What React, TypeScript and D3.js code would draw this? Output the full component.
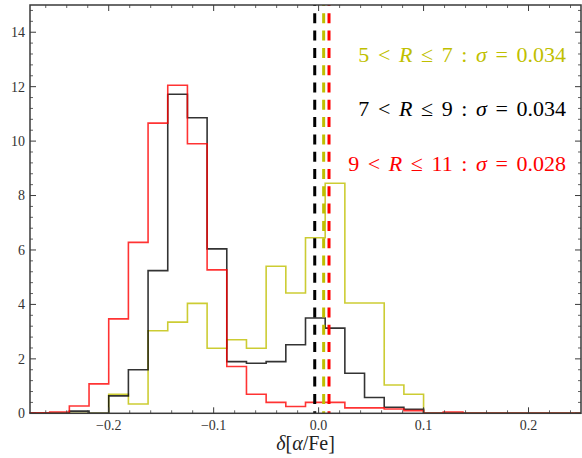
import React from "react";
import * as d3 from "d3";

// ---- data ----
const binStart = -0.275;
const binWidth = 0.01875;
const yellowCounts = [0, 0, 0, 0, 0.7, 0.34, 3.03, 3.35, 4.04, 2.39, 2.7, 2.39, 5.4, 4.42, 6.45, 8.45, 4.05, 4.05, 1.04, 0.7, 0, 0, 0, 0, 0, 0, 0, 0];
const blackCounts = [0, 0, 0.08, 0, 0.64, 1.6, 5.24, 11.72, 10.86, 6.04, 1.9, 1.84, 1.9, 2.52, 3.5, 3.13, 1.47, 0.58, 0.22, 0.15, 0, 0, 0, 0, 0, 0, 0, 0];
const redCounts = [0.02, 0.05, 0.27, 1.08, 3.47, 6.28, 10.66, 12.05, 9.9, 5.27, 1.72, 0.7, 0.4, 0.25, 0.4, 0.4, 0.2, 0.2, 0.16, 0.1, 0, 0.05, 0, 0, 0, 0, 0, 0];
const medians = [0.0048, -0.0037, 0.0099]; // yellow, black, red
const seriesColors = ["#bfbf00", "#000000", "#ff0000"];
const labelLow = ["5", "7", "9"];
const labelHigh = ["7", "9", "11"];
const labelSigma = ["0.034", "0.034", "0.028"];
const xTicks = [-0.2, -0.1, 0, 0.1, 0.2];
const xTickLabels = ["\u22120.2", "\u22120.1", "0.0", "0.1", "0.2"];
const yTicks = [0, 2, 4, 6, 8, 10, 12, 14];
const yTickLabels = ["0", "2", "4", "6", "8", "10", "12", "14"];

const W = 582;
const H = 458;
const L = 30, R = 581, T = 5, B = 413.3;

export default function App() {
  const x = d3.scaleLinear().domain([-0.275, 0.25]).range([L, R]);
  const y = d3.scaleLinear().domain([0, 15]).range([B, T]);

  const stepPath = (counts: number[]) => {
    const pts: [number, number][] = [];
    pts.push([x(binStart), y(0)]);
    counts.forEach((c, i) => {
      const x0 = binStart + i * binWidth;
      const x1 = binStart + (i + 1) * binWidth;
      pts.push([x(x0), y(c)]);
      pts.push([x(x1), y(c)]);
    });
    pts.push([x(binStart + counts.length * binWidth), y(0)]);
    return d3.line()(pts) || "";
  };

  const xMinor = d3.range(-13, 13).map((i) => i * 0.02).filter((v) => Math.abs(Math.round(v * 10) - v * 10) > 1e-6);
  const yMinor = d3.range(0, 38).map((i) => i * 0.4).filter((v) => Math.abs(v / 2 - Math.round(v / 2)) > 1e-6 && v < 15);

  const axisColor = "#3a3a3a";
  const font = "'Liberation Serif', 'DejaVu Serif', serif";
  const series = [yellowCounts, blackCounts, redCounts];
  const legendY = [61.5, 116, 170.5];
  const gap = 8.6;

  return (
    <div style={{ position: "absolute", left: 0, top: 0 }}>
      <svg width={W} height={H} style={{ display: "block", background: "#fff" }}>
        {/* histograms */}
        {series.map((s, i) => (
          <path key={"h" + i} d={stepPath(s)} fill="none" stroke={seriesColors[i]} strokeWidth={1.6} strokeOpacity={0.8} strokeLinejoin="miter" />
        ))}
        {/* median dashed lines */}
        {medians.map((m, i) => (
          <line key={"m" + i} x1={x(m)} x2={x(m)} y1={y(15)} y2={y(0)} stroke={seriesColors[i]} strokeWidth={3} strokeDasharray="10 7.3" strokeDashoffset={9} />
        ))}
        {/* frame */}
        <rect x={L} y={T} width={R - L} height={B - T} fill="none" stroke={axisColor} strokeWidth={1.5} />
        {/* x ticks */}
        {xTicks.map((v, i) => (
          <g key={"xt" + i}>
            <line x1={x(v)} x2={x(v)} y1={B} y2={B - 6} stroke={axisColor} strokeWidth={1} />
            <line x1={x(v)} x2={x(v)} y1={T} y2={T + 6} stroke={axisColor} strokeWidth={1} />
            <text x={x(v)} y={430} textAnchor="middle" fontFamily={font} fontSize={14} fill="#333">{xTickLabels[i]}</text>
          </g>
        ))}
        {xMinor.map((v, i) => (
          <g key={"xm" + i}>
            <line x1={x(v)} x2={x(v)} y1={B} y2={B - 3} stroke={axisColor} strokeWidth={0.8} />
            <line x1={x(v)} x2={x(v)} y1={T} y2={T + 3} stroke={axisColor} strokeWidth={0.8} />
          </g>
        ))}
        {/* y ticks */}
        {yTicks.map((v, i) => (
          <g key={"yt" + i}>
            <line x1={L} x2={L + 6} y1={y(v)} y2={y(v)} stroke={axisColor} strokeWidth={1} />
            <line x1={R} x2={R - 6} y1={y(v)} y2={y(v)} stroke={axisColor} strokeWidth={1} />
            <text x={25} y={y(v)} dy="0.35em" textAnchor="end" fontFamily={font} fontSize={14} fill="#333">{yTickLabels[i]}</text>
          </g>
        ))}
        {yMinor.map((v, i) => (
          <g key={"ym" + i}>
            <line x1={L} x2={L + 3} y1={y(v)} y2={y(v)} stroke={axisColor} strokeWidth={0.8} />
            <line x1={R} x2={R - 3} y1={y(v)} y2={y(v)} stroke={axisColor} strokeWidth={0.8} />
          </g>
        ))}
        {/* x label */}
        <text x={(L + R) / 2} y={450} textAnchor="middle" fontFamily={font} fontSize={20} fill="#222">
          <tspan fontStyle="italic">δ</tspan>
          <tspan>[</tspan>
          <tspan fontStyle="italic">α</tspan>
          <tspan>/Fe]</tspan>
        </text>
        {/* legend texts */}
        {seriesColors.map((c, i) => (
          <text key={"lg" + i} x={566} y={legendY[i]} textAnchor="end" fontFamily={font} fontSize={22} fill={c}>
            <tspan>{labelLow[i]}</tspan>
            <tspan dx={gap}>&lt;</tspan>
            <tspan dx={gap} fontStyle="italic">R</tspan>
            <tspan dx={gap}>≤</tspan>
            <tspan dx={gap}>{labelHigh[i]}</tspan>
            <tspan dx={gap}>:</tspan>
            <tspan dx={gap} fontStyle="italic">σ</tspan>
            <tspan dx={gap}>=</tspan>
            <tspan dx={gap}>{labelSigma[i]}</tspan>
          </text>
        ))}
      </svg>
    </div>
  );
}
